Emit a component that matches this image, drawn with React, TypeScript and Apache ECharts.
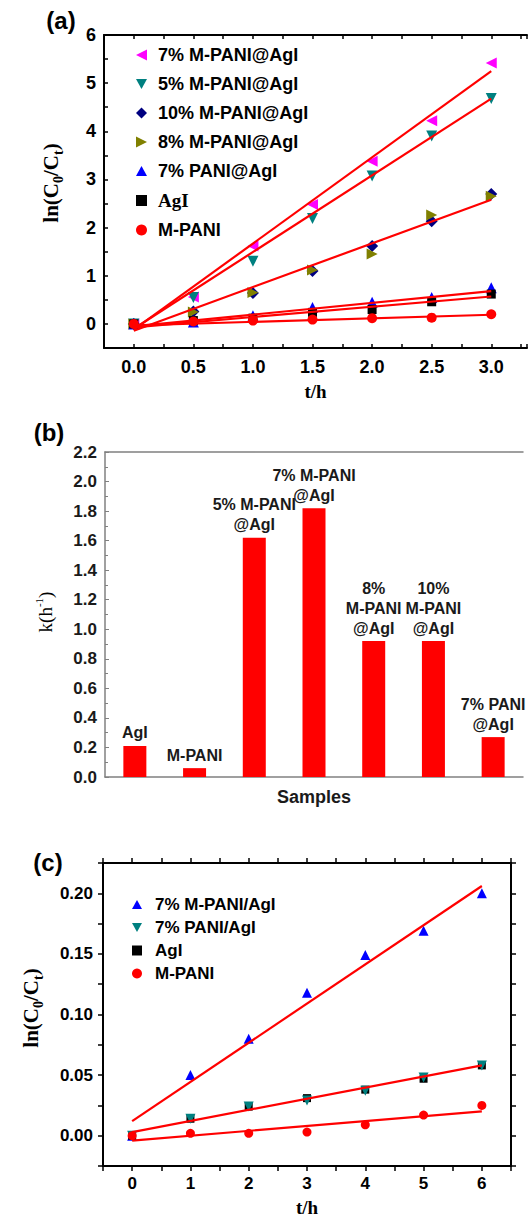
import React, { useEffect, useRef } from 'react';
import * as echarts from 'echarts';

const SANS = "Arial, 'Liberation Sans', Helvetica, sans-serif";
const SERIF = "'Times New Roman', 'Liberation Serif', serif";

// ---------- Panel (a) ----------
const tA = [0, 0.5, 1, 1.5, 2, 2.5, 3];
const m7A = [0, 0.56, 1.62, 2.48, 3.38, 4.22, 5.42];
const m5A = [0, 0.55, 1.30, 2.19, 3.07, 3.90, 4.68];
const m10A = [0, 0.26, 0.64, 1.10, 1.62, 2.13, 2.70];
const m8A = [0, 0.25, 0.65, 1.12, 1.45, 2.26, 2.65];
const p7A = [0, 0.04, 0.17, 0.34, 0.45, 0.55, 0.75];
const agiA = [0, 0.07, 0.12, 0.24, 0.30, 0.46, 0.62];
const mpaniA = [0, 0.05, 0.07, 0.09, 0.12, 0.13, 0.20];
const fitTA = [0, 3];
const fitM7A = [-0.12, 5.25];
const fitM5A = [-0.10, 4.68];
const fitM10A = [-0.14, 2.58];
const fitP7A = [-0.05, 0.68];
const fitAgiA = [-0.07, 0.57];
const fitMpaniA = [-0.03, 0.19];
const namesA = ['7% M-PANI@AgI', '5% M-PANI@AgI', '10% M-PANI@AgI', '8% M-PANI@AgI', '7% PANI@AgI', 'AgI', 'M-PANI'];

// ---------- Panel (b) ----------
const samplesB = ['AgI', 'M-PANI', '5% M-PANI@AgI', '7% M-PANI@AgI', '8% M-PANI@AgI', '10% M-PANI@AgI', '7% PANI@AgI'];
const kB = [0.21, 0.06, 1.62, 1.82, 0.92, 0.92, 0.27];
const labelsB = ['AgI', 'M-PANI', '5% M-PANI\n@AgI', '7% M-PANI\n@AgI', '8%\nM-PANI\n@AgI', '10%\nM-PANI\n@AgI', '7% PANI\n@AgI'];

// ---------- Panel (c) ----------
const tC = [0, 1, 2, 3, 4, 5, 6];
const m7C = [0, 0.050, 0.080, 0.118, 0.149, 0.169, 0.200];
const p7C = [0, 0.014, 0.024, 0.029, 0.037, 0.048, 0.058];
const agiC = [0, 0.014, 0.024, 0.031, 0.038, 0.047, 0.058];
const mpaniC = [0, 0.002, 0.002, 0.003, 0.009, 0.017, 0.025];
const fitTC = [0, 6];
const fitM7C = [0.012, 0.206];
const fitP7C = [0.003, 0.058];
const fitMpaniC = [-0.004, 0.020];
const namesC = ['7% M-PANI/AgI', '7% PANI/AgI', 'AgI', 'M-PANI'];

const LEFT_TRI = 'path://M10,0 L10,10 L0,5 Z';
const DOWN_TRI = 'path://M0,0 L10,0 L5,9 Z';
const RIGHT_TRI = 'path://M0,0 L10,5 L0,10 Z';
const UP_TRI = 'path://M5,0 L10,9 L0,9 Z';

const pts = (xs: number[], ys: number[]) => xs.map((x, i) => [x, ys[i]]);

const isMult = (v: number, step: number) => Math.abs(v / step - Math.round(v / step)) < 1e-6;

function scatter(name: string, xs: number[], ys: number[], symbol: string, size: number, color: string, xi: number, yi: number) {
  return {
    type: 'scatter', name, data: pts(xs, ys), symbol, symbolSize: size,
    itemStyle: { color, opacity: 1 }, xAxisIndex: xi, yAxisIndex: yi, z: 2,
  };
}
function fit(name: string, xs: number[], ys: number[], xi: number, yi: number) {
  return {
    type: 'line', name, data: pts(xs, ys), showSymbol: false, symbol: 'none',
    lineStyle: { color: '#FF0000', width: 2.2 }, xAxisIndex: xi, yAxisIndex: yi, z: 3, silent: true,
  };
}

const blackLine = { onZero: false, lineStyle: { color: '#000', width: 2 } };
const grayLine = { show: true, onZero: false, lineStyle: { color: '#808080', width: 1.5 } };
const tickLab = (size: number) => ({ fontFamily: SANS, fontWeight: 'bold', fontSize: size, color: '#000' });

const option: any = {
  animation: false,
  backgroundColor: '#fff',
  grid: [
    { left: 104, top: 35, width: 426, height: 313 },
    { left: 105, top: 452, width: 418, height: 325 },
    { left: 103, top: 863, width: 408, height: 303 },
  ],
  xAxis: [
    {
      gridIndex: 0, type: 'value', min: -0.25, max: 3.3, interval: 0.25, position: 'bottom',
      axisLine: blackLine, axisTick: { inside: true, length: 4, lineStyle: { color: '#000', width: 1.5 } },
      splitLine: { show: false },
      axisLabel: { ...tickLab(18), margin: 10, formatter: (v: number) => (v > -1e-6 && isMult(v, 0.5) ? (Math.round(v * 2) / 2).toFixed(1) : '') },
      name: 't/h', nameLocation: 'middle', nameGap: 34,
      nameTextStyle: { fontFamily: SERIF, fontWeight: 'bold', fontSize: 19, color: '#000' },
    },
    {
      gridIndex: 0, type: 'value', min: -0.25, max: 3.3, interval: 0.25, position: 'top',
      axisLine: blackLine, axisTick: { inside: true, length: 4, lineStyle: { color: '#000', width: 1.5 } },
      splitLine: { show: false }, axisLabel: { show: false },
    },
    {
      gridIndex: 1, type: 'category', data: samplesB, position: 'bottom',
      axisLine: grayLine, axisTick: { show: false }, axisLabel: { show: false },
      name: 'Samples', nameLocation: 'middle', nameGap: 11,
      nameTextStyle: { fontFamily: SANS, fontWeight: 'bold', fontSize: 18, color: '#1a1a1a' },
    },
    {
      gridIndex: 1, type: 'category', data: samplesB, position: 'top',
      axisLine: grayLine, axisTick: { show: false }, axisLabel: { show: false },
    },
    {
      gridIndex: 2, type: 'value', min: -0.5, max: 6.5, interval: 0.5, position: 'bottom',
      axisLine: blackLine, axisTick: { inside: false, length: 5, lineStyle: { color: '#000', width: 1.5 } },
      splitLine: { show: false },
      axisLabel: { ...tickLab(17), margin: 9, formatter: (v: number) => (v > -1e-6 && isMult(v, 1) ? String(Math.round(v)) : '') },
      name: 't/h', nameLocation: 'middle', nameGap: 32,
      nameTextStyle: { fontFamily: SERIF, fontWeight: 'bold', fontSize: 19, color: '#000' },
    },
    {
      gridIndex: 2, type: 'value', min: -0.5, max: 6.5, interval: 0.5, position: 'top',
      axisLine: blackLine, axisTick: { inside: false, length: 5, lineStyle: { color: '#000', width: 1.5 } },
      splitLine: { show: false }, axisLabel: { show: false },
    },
  ],
  yAxis: [
    {
      gridIndex: 0, type: 'value', min: -0.5, max: 6, interval: 0.5, position: 'left',
      axisLine: blackLine, axisTick: { inside: true, length: 4, lineStyle: { color: '#000', width: 1.5 } },
      splitLine: { show: false },
      axisLabel: { ...tickLab(18), margin: 8, formatter: (v: number) => (v > -1e-6 && isMult(v, 1) ? String(Math.round(v)) : '') },
    },
    {
      gridIndex: 1, type: 'value', min: 0, max: 2.2, interval: 0.2, position: 'left',
      axisLine: grayLine,
      axisTick: { show: true, inside: true, length: 4, lineStyle: { color: '#808080', width: 1 } },
      minorTick: { show: true, splitNumber: 2, length: 3, lineStyle: { color: '#808080', width: 1 } },
      splitLine: { show: false }, minorSplitLine: { show: false },
      axisLabel: { fontFamily: SANS, fontWeight: 'bold', fontSize: 17, color: '#1a1a1a', margin: 8, formatter: (v: number) => v.toFixed(1) },
    },
    {
      gridIndex: 2, type: 'value', min: -0.025, max: 0.225, interval: 0.025, position: 'left',
      axisLine: blackLine, axisTick: { inside: false, length: 5, lineStyle: { color: '#000', width: 1.5 } },
      splitLine: { show: false },
      axisLabel: { ...tickLab(17), margin: 10, formatter: (v: number) => (v > -1e-6 && isMult(v, 0.05) ? v.toFixed(2) : '') },
    },
    {
      gridIndex: 2, type: 'value', min: -0.025, max: 0.225, interval: 0.025, position: 'right',
      axisLine: blackLine, axisTick: { inside: false, length: 5, lineStyle: { color: '#000', width: 1.5 } },
      splitLine: { show: false }, axisLabel: { show: false },
    },
  ],
  legend: [
    {
      data: namesA, orient: 'vertical', left: 131, top: 41, itemWidth: 11, itemHeight: 11, itemGap: 11,
      selectedMode: false,
      formatter: (n: string) => (n === 'AgI' ? '{s|AgI}' : '{b|' + n + '}'),
      textStyle: {
        padding: [0, 0, 0, 6],
        rich: {
          b: { fontFamily: SANS, fontWeight: 'bold', fontSize: 18, color: '#000' },
          s: { fontFamily: SERIF, fontWeight: 'bold', fontSize: 19, color: '#000' },
        },
      },
    },
    {
      data: namesC, orient: 'vertical', left: 127, top: 891, itemWidth: 10, itemHeight: 10, itemGap: 6,
      selectedMode: false,
      textStyle: { fontFamily: SANS, fontWeight: 'bold', fontSize: 17, color: '#000', padding: [0, 0, 0, 8] },
    },
  ],
  series: [
    scatter(namesA[0], tA, m7A, LEFT_TRI, 11, '#FF00FF', 0, 0),
    scatter(namesA[1], tA, m5A, DOWN_TRI, 11, '#008080', 0, 0),
    scatter(namesA[2], tA, m10A, 'diamond', 12, '#000080', 0, 0),
    scatter(namesA[3], tA, m8A, RIGHT_TRI, 11, '#808000', 0, 0),
    scatter(namesA[4], tA, p7A, UP_TRI, 11, '#0000FF', 0, 0),
    scatter(namesA[5], tA, agiA, 'rect', 9, '#000000', 0, 0),
    scatter(namesA[6], tA, mpaniA, 'circle', 10, '#FF0000', 0, 0),
    fit('fit m7 a', fitTA, fitM7A, 0, 0),
    fit('fit m5 a', fitTA, fitM5A, 0, 0),
    fit('fit m10 a', fitTA, fitM10A, 0, 0),
    fit('fit p7 a', fitTA, fitP7A, 0, 0),
    fit('fit agi a', fitTA, fitAgiA, 0, 0),
    fit('fit mpani a', fitTA, fitMpaniA, 0, 0),
    {
      type: 'bar', name: 'k', data: kB, xAxisIndex: 2, yAxisIndex: 1, barWidth: 23,
      itemStyle: { color: '#FF0000' },
      label: {
        show: true, position: 'top', distance: 3,
        formatter: (p: any) => labelsB[p.dataIndex],
        fontFamily: SANS, fontWeight: 'bold', fontSize: 16, lineHeight: 20, color: '#1a1a1a', align: 'center',
      },
    },
    scatter(namesC[0], tC, m7C, UP_TRI, 10, '#0000FF', 4, 2),
    scatter(namesC[2], tC, agiC, 'rect', 8, '#000000', 4, 2),
    scatter(namesC[1], tC, p7C, DOWN_TRI, 10, '#008080', 4, 2),
    scatter(namesC[3], tC, mpaniC, 'circle', 9, '#FF0000', 4, 2),
    fit('fit m7 c', fitTC, fitM7C, 4, 2),
    fit('fit p7 c', fitTC, fitP7C, 4, 2),
    fit('fit mpani c', fitTC, fitMpaniC, 4, 2),
  ],
  graphic: [
    { type: 'text', x: 61, y: 20, style: { text: '(a)', fontFamily: SANS, fontWeight: 'bold', fontSize: 24, fill: '#000', align: 'center', verticalAlign: 'middle' } },
    { type: 'text', x: 49, y: 432, style: { text: '(b)', fontFamily: SANS, fontWeight: 'bold', fontSize: 24, fill: '#000', align: 'center', verticalAlign: 'middle' } },
    { type: 'text', x: 48, y: 862, style: { text: '(c)', fontFamily: SANS, fontWeight: 'bold', fontSize: 24, fill: '#000', align: 'center', verticalAlign: 'middle' } },
    {
      type: 'text', x: 51, y: 183, rotation: Math.PI / 2,
      style: {
        text: '{a|ln(C}{s|0}{a|/C}{s|t}{a|)}', fill: '#000', align: 'center', verticalAlign: 'middle',
        rich: {
          a: { fontFamily: SERIF, fontWeight: 'bold', fontSize: 21, lineHeight: 28, fill: '#000' },
          s: { fontFamily: SERIF, fontWeight: 'bold', fontSize: 14, lineHeight: 14, verticalAlign: 'bottom', fill: '#000' },
        },
      },
    },
    {
      type: 'text', x: 45, y: 612, rotation: Math.PI / 2,
      style: {
        text: '{a|k(h}{s|-1}{a|)}', fill: '#000', align: 'center', verticalAlign: 'middle',
        rich: {
          a: { fontFamily: SERIF, fontSize: 19, lineHeight: 24, fill: '#000' },
          s: { fontFamily: SERIF, fontSize: 11, lineHeight: 11, verticalAlign: 'top', fill: '#000' },
        },
      },
    },
    {
      type: 'text', x: 31, y: 1008, rotation: Math.PI / 2,
      style: {
        text: '{a|ln(C}{s|0}{a|/C}{s|t}{a|)}', fill: '#000', align: 'center', verticalAlign: 'middle',
        rich: {
          a: { fontFamily: SERIF, fontWeight: 'bold', fontSize: 21, lineHeight: 28, fill: '#000' },
          s: { fontFamily: SERIF, fontWeight: 'bold', fontSize: 14, lineHeight: 14, verticalAlign: 'bottom', fill: '#000' },
        },
      },
    },
  ],
};

export default function App() {
  const ref = useRef<HTMLDivElement>(null);
  useEffect(() => {
    document.body.style.margin = '0';
    const chart = echarts.init(ref.current as HTMLDivElement, null, { renderer: 'svg' });
    chart.setOption(option);
    return () => chart.dispose();
  }, []);
  return <div ref={ref} style={{ width: 530, height: 1219 }} />;
}
